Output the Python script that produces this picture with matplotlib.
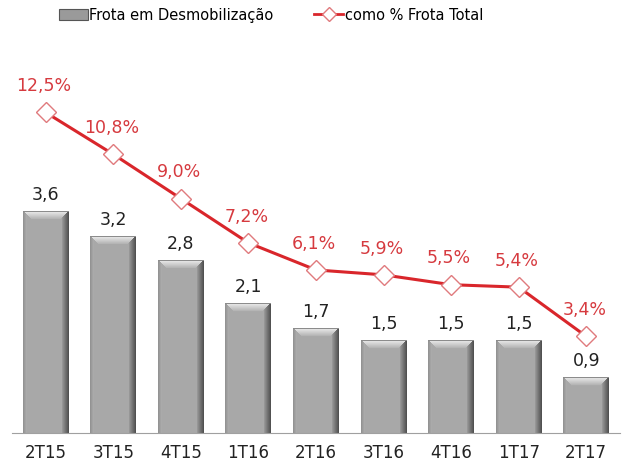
import numpy as np
import matplotlib.pyplot as plt
from matplotlib.patches import Patch
from matplotlib.lines import Line2D

trimestres = ['2T15', '3T15', '4T15', '1T16', '2T16', '3T16', '4T16', '1T17', '2T17']
frota_desmob = [3.6, 3.2, 2.8, 2.1, 1.7, 1.5, 1.5, 1.5, 0.9]
pct_frota = [12.5, 10.8, 9.0, 7.2, 6.1, 5.9, 5.5, 5.4, 3.4]

VERMELHO = '#d9262b'
TXT_VERM = '#d63a3f'
PX_BARRA = 61.5   # pixels por unidade (eixo das barras)
PX_PCT = 24.6     # pixels por ponto percentual


def textura_barra(w_px, h_px):
    # cinza com chanfro: topo claro, lateral direita escura
    img = np.full((h_px, w_px), 0.66)
    u = np.arange(w_px)[None, :].repeat(h_px, 0)
    v = np.arange(h_px)[:, None].repeat(w_px, 1)
    dr = w_px - 1 - u
    esq = (u < 4) & (u <= v)
    img[esq] = 0.58 + 0.03 * u[esq]
    dir_ = (dr < 7) & (dr <= v)
    img[dir_] = 0.32 + 0.045 * dr[dir_]
    topo = (v < 8) & (v < u) & (v < dr)
    img[topo] = 0.92 - 0.03 * v[topo]
    img[:1, :] = 0.55
    rgb = np.stack([img, img, img], axis=-1)
    return np.clip(rgb, 0, 1)


fig = plt.figure(figsize=(6.33, 4.68), dpi=100)
ax = fig.add_axes([12 / 633, 35 / 468, 608 / 633, 373 / 468])
x = np.arange(len(trimestres))
larg = 0.68

for xi, h in zip(x, frota_desmob):
    ax.bar(xi, h, width=larg, color='#a8a8a8', zorder=1)
    tex = textura_barra(46, max(int(h * PX_BARRA), 8))
    ax.imshow(tex, extent=[xi - larg / 2, xi + larg / 2, 0, h],
              aspect='auto', interpolation='bilinear', zorder=2)
    ax.text(xi, h + 0.12, f'{h:.1f}'.replace('.', ','), ha='center', va='bottom',
            fontsize=12.5, color='#222222')
ax.set_xlim(-0.5, 8.5)
ax.set_ylim(0, 373 / PX_BARRA)

for s in ['top', 'left', 'right']:
    ax.spines[s].set_visible(False)
ax.spines['bottom'].set_color('#a0a0a0')
ax.set_yticks([])
ax.set_xticks(x)
ax.set_xticklabels(trimestres, fontsize=12, color='#222222')
ax.tick_params(axis='x', length=0, pad=8)

ax2 = ax.twinx()
y0 = -13 / PX_PCT
ax2.set_ylim(y0, y0 + 373 / PX_PCT)
ax2.plot(x, pct_frota, color=VERMELHO, lw=2.2, marker='D', markersize=10,
         markerfacecolor='white', markeredgecolor='#e07a7d', markeredgewidth=1.0, zorder=3)
for xi, p in zip(x, pct_frota):
    ax2.text(xi - 0.03, p + 0.7, f'{p:.1f}%'.replace('.', ','), ha='center', va='bottom',
             fontsize=12.5, color=TXT_VERM)
ax2.axis('off')
ax2.set_xlim(-0.5, 8.5)

h1 = Patch(facecolor='#9a9a9a', edgecolor='#555555', linewidth=0.8)
h2 = Line2D([], [], color=VERMELHO, lw=2, marker='D', markersize=7,
            markerfacecolor='white', markeredgecolor='#e07a7d')
fig.legend([h1, h2], ['Frota em Desmobilização', 'como % Frota Total'],
           loc='upper center', bbox_to_anchor=(0.428, 1.012), ncol=2, frameon=False,
           fontsize=10.5, handlelength=2.0, handletextpad=0.1, columnspacing=2.8)

fig.savefig('out.png', dpi=100)
